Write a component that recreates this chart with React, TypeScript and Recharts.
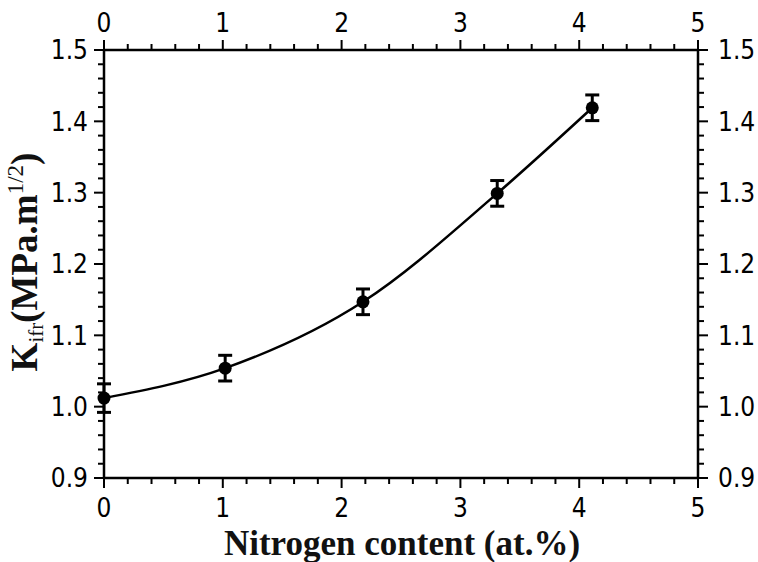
import { ComposedChart, Line, XAxis, YAxis, ErrorBar } from 'recharts';

// measured fracture toughness vs nitrogen content
const nitrogen = [0, 1.02, 2.18, 3.31, 4.11];
const kifr = [1.012, 1.054, 1.147, 1.299, 1.419];
const kifrErr = [0.02, 0.018, 0.018, 0.018, 0.018];

const xMajor = [0, 1, 2, 3, 4, 5];
const xTicks = [
  0, 0.2, 0.4, 0.6, 0.8, 1, 1.2, 1.4, 1.6, 1.8, 2, 2.2, 2.4, 2.6, 2.8,
  3, 3.2, 3.4, 3.6, 3.8, 4, 4.2, 4.4, 4.6, 4.8, 5,
];
const yMajor = [0.9, 1.0, 1.1, 1.2, 1.3, 1.4, 1.5];
const yTicks = [
  0.9, 0.92, 0.94, 0.96, 0.98, 1.0, 1.02, 1.04, 1.06, 1.08, 1.1, 1.12, 1.14, 1.16, 1.18,
  1.2, 1.22, 1.24, 1.26, 1.28, 1.3, 1.32, 1.34, 1.36, 1.38, 1.4, 1.42, 1.44, 1.46, 1.48, 1.5,
];

const data = nitrogen.map((x, i) => ({ x, k: kifr[i], err: kifrErr[i] }));

const tickFont = "'DejaVu Sans Condensed', 'DejaVu Sans', sans-serif";
const titleFont = "'Liberation Serif', 'DejaVu Serif', serif";

const isMajor = (v: number, majors: number[]) => majors.some((m) => Math.abs(m - v) < 1e-6);

const AxisTick = (props: any) => {
  const { x, y, payload, side } = props;
  const v = payload.value as number;
  const vertical = side === 'left' || side === 'right';
  const major = isMajor(v, vertical ? yMajor : xMajor);
  const len = major ? 10 : 6;
  const label = vertical ? v.toFixed(1) : String(v);
  const textProps = { fontFamily: tickFont, fontSize: 26, fill: '#000' };

  if (side === 'bottom') {
    return (
      <g>
        <line x1={x} y1={y} x2={x} y2={y + len} stroke="#000" strokeWidth={2} />
        {major && <text x={x} y={y + 39} textAnchor="middle" {...textProps}>{label}</text>}
      </g>
    );
  }
  if (side === 'top') {
    return (
      <g>
        <line x1={x} y1={y} x2={x} y2={y - len} stroke="#000" strokeWidth={2} />
        {major && <text x={x} y={y - 18} textAnchor="middle" {...textProps}>{label}</text>}
      </g>
    );
  }
  if (side === 'left') {
    return (
      <g>
        <line x1={x} y1={y} x2={x - len} y2={y} stroke="#000" strokeWidth={2} />
        {major && <text x={x - 16} y={y} dy="0.36em" textAnchor="end" {...textProps}>{label}</text>}
      </g>
    );
  }
  return (
    <g>
      <line x1={x} y1={y} x2={x + len} y2={y} stroke="#000" strokeWidth={2} />
      {major && <text x={x + 20} y={y} dy="0.36em" textAnchor="start" {...textProps}>{label}</text>}
    </g>
  );
};

const XTitle = () => (
  <text x={402} y={555} textAnchor="middle" fontFamily={titleFont} fontWeight="bold" fontSize={35} fill="#111">
    Nitrogen content (at.%)
  </text>
);

const YTitle = () => (
  <text
    x={37}
    y={262}
    transform="rotate(-90, 37, 262)"
    textAnchor="middle"
    fontFamily={titleFont}
    fontWeight="bold"
    fontSize={37}
    fill="#111"
  >
    K
    <tspan fontSize={21} fontWeight="normal" dy={6}>ifr</tspan>
    <tspan dy={-6}>(MPa.m</tspan>
    <tspan fontSize={23} fontWeight="normal" dy={-14}>1/2</tspan>
    <tspan dy={14}>)</tspan>
  </text>
);

const axisLine = { stroke: '#000', strokeWidth: 2.5 };

export default function App() {
  return (
    <div style={{ position: 'absolute', left: 0, top: 0, width: 758, height: 562, background: '#fff' }}>
      <ComposedChart width={758} height={562} data={data} margin={{ top: 0, right: 0, bottom: 0, left: 0 }}>
        <XAxis
          xAxisId="bottom"
          dataKey="x"
          type="number"
          domain={[0, 5]}
          ticks={xTicks}
          interval={0}
          height={84}
          tickSize={0}
          tickMargin={0}
          tickLine={false}
          axisLine={axisLine}
          tick={(p: any) => <AxisTick {...p} side="bottom" />}
          label={{ content: () => <XTitle /> }}
        />
        <XAxis
          xAxisId="top"
          orientation="top"
          dataKey="x"
          type="number"
          domain={[0, 5]}
          ticks={xTicks}
          interval={0}
          height={50}
          tickSize={0}
          tickMargin={0}
          tickLine={false}
          axisLine={axisLine}
          tick={(p: any) => <AxisTick {...p} side="top" />}
        />
        <YAxis
          yAxisId="left"
          type="number"
          domain={[0.9, 1.5]}
          ticks={yTicks}
          interval={0}
          width={104}
          tickSize={0}
          tickMargin={0}
          tickLine={false}
          axisLine={axisLine}
          tick={(p: any) => <AxisTick {...p} side="left" />}
          label={{ content: () => <YTitle /> }}
        />
        <YAxis
          yAxisId="right"
          orientation="right"
          type="number"
          domain={[0.9, 1.5]}
          ticks={yTicks}
          interval={0}
          width={60}
          tickSize={0}
          tickMargin={0}
          tickLine={false}
          axisLine={axisLine}
          tick={(p: any) => <AxisTick {...p} side="right" />}
        />
        <Line
          xAxisId="bottom"
          yAxisId="left"
          type="monotone"
          dataKey="k"
          stroke="#000"
          strokeWidth={2.5}
          dot={{ r: 6.5, fill: '#000', stroke: '#000', strokeWidth: 0 }}
          activeDot={false}
          isAnimationActive={false}
        >
          <ErrorBar dataKey="err" width={7} stroke="#000" strokeWidth={3} direction="y" />
        </Line>
        <Line
          xAxisId="top"
          yAxisId="right"
          dataKey="k"
          stroke="none"
          dot={false}
          activeDot={false}
          isAnimationActive={false}
        />
      </ComposedChart>
    </div>
  );
}
